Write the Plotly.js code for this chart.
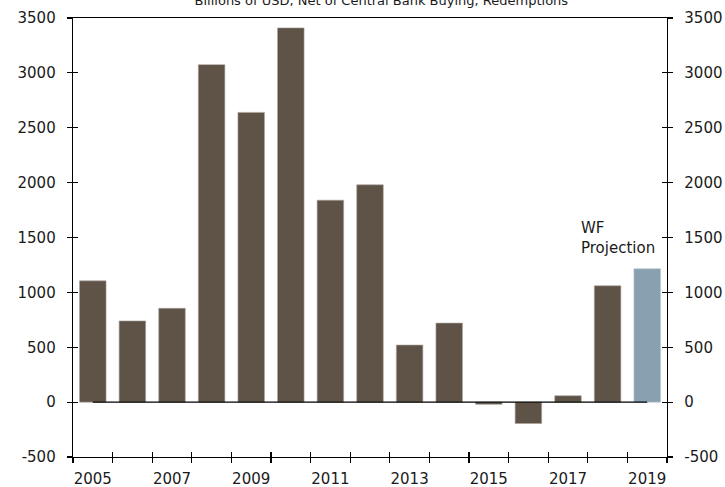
<!DOCTYPE html>
<html>
<head>
<meta charset="utf-8">
<script src="https://cdn.plot.ly/plotly-3.0.1.min.js"></script>
<style>html,body{margin:0;padding:0;background:#fff;}#chart{width:725px;height:487px;}</style>
</head>
<body>
<div id="chart"></div>
<script>
// Data (Billions of USD)
const histYears  = [2005, 2006, 2007, 2008, 2009, 2010, 2011, 2012, 2013, 2014, 2015, 2016, 2017, 2018];
const histValues = [1105, 740, 855, 3075, 2640, 3410, 1840, 1980, 520, 720, -20, -195, 58, 1060];
const projYears  = [2019];
const projValues = [1215];
const yTickVals  = [-500, 0, 500, 1000, 1500, 2000, 2500, 3000, 3500];
const yTickText  = ['-500', '0', '500', '1000', '1500', '2000', '2500', '3000', '3500'];
const titleText  = 'Billions of USD, Net of Central Bank Buying, Redemptions';
const projLabel  = 'WF<br>Projection';

const allYears = histYears.concat(projYears);
const FONT = 'DejaVu Sans, Verdana, sans-serif';
const TXT = '#1a1a1a';

const traces = [
  {type: 'bar', x: histYears, y: histValues, width: 0.67,
   marker: {color: '#5f5347', line: {color: '#a9a39c', width: 0.6}}, hoverinfo: 'skip'},
  {type: 'bar', x: projYears, y: projValues, width: 0.67,
   marker: {color: '#88a0b0', line: {color: '#b8c4cc', width: 0.6}}, hoverinfo: 'skip'},
  {type: 'scatter', mode: 'lines', x: allYears, y: allYears.map(() => 0),
   line: {color: '#000', width: 1.3}, hoverinfo: 'skip'}
];
// invisible helpers so the tick-only overlay axes get drawn
[['x2', 'y'], ['x3', 'y'], ['x', 'y2'], ['x', 'y3'], ['x', 'y4']].forEach(([xa, ya]) => {
  traces.push({type: 'scatter', mode: 'markers', x: [allYears[0]], y: [0], xaxis: xa, yaxis: ya,
    marker: {opacity: 0, size: 1}, hoverinfo: 'skip'});
});

const xr = [allYears[0] - 0.5, allYears[allYears.length - 1] + 0.5];
const yr = [yTickVals[0], yTickVals[yTickVals.length - 1]];

const yBase = {range: yr, tickvals: yTickVals, showgrid: false, zeroline: false, fixedrange: true};
const xTickBase = {range: xr, tick0: xr[0], dtick: 1, showticklabels: false, showgrid: false,
  zeroline: false, showline: false, ticklen: 5, tickwidth: 1.2, tickcolor: '#000', overlaying: 'x', anchor: 'y'};

const layout = {
  width: 725, height: 487,
  margin: {l: 73, r: 58, t: 18, b: 30, pad: 0},
  paper_bgcolor: '#fff', plot_bgcolor: '#fff',
  showlegend: false,
  barmode: 'overlay',
  font: {family: FONT, size: 15, color: TXT},
  title: {text: titleText, font: {family: FONT, size: 13, color: TXT},
          x: 0.526, xanchor: 'center', y: 1, yref: 'container', yanchor: 'middle'},
  xaxis: {range: xr, tick0: allYears[0], dtick: 2, ticks: '', showgrid: false, zeroline: false,
          showline: true, linecolor: '#000', linewidth: 1.3, mirror: true,
          tickfont: {family: FONT, size: 15, color: TXT}, ticklabelstandoff: 8},
  xaxis2: Object.assign({}, xTickBase, {ticks: 'outside'}),
  xaxis3: Object.assign({}, xTickBase, {ticks: 'inside'}),
  yaxis: Object.assign({}, yBase, {ticktext: yTickText, ticks: 'outside', ticklen: 5, tickwidth: 1.2,
          tickcolor: '#000', showline: true, linecolor: '#000', linewidth: 1.3,
          tickfont: {family: FONT, size: 15, color: TXT}, ticklabelstandoff: 8}),
  yaxis2: Object.assign({}, yBase, {ticktext: yTickText, overlaying: 'y', side: 'right', anchor: 'x',
          ticks: 'outside', ticklen: 5, tickwidth: 1.2, tickcolor: '#000', showline: true,
          linecolor: '#000', linewidth: 1.3, tickfont: {family: FONT, size: 15, color: TXT}, ticklabelstandoff: 8}),
  yaxis3: Object.assign({}, yBase, {overlaying: 'y', side: 'left', anchor: 'x', ticks: 'inside', ticklen: 5,
          tickwidth: 1.2, tickcolor: '#000', showticklabels: false, showline: false}),
  yaxis4: Object.assign({}, yBase, {overlaying: 'y', side: 'right', anchor: 'x', ticks: 'inside', ticklen: 5,
          tickwidth: 1.2, tickcolor: '#000', showticklabels: false, showline: false}),
  annotations: [{
    text: projLabel, x: projYears[0], y: projValues[0], xref: 'x', yref: 'y',
    xanchor: 'right', yanchor: 'bottom', align: 'left', showarrow: false,
    xshift: 10, yshift: 10, font: {family: FONT, size: 15, color: TXT}
  }]
};

Plotly.newPlot('chart', traces, layout, {staticPlot: true, displayModeBar: false});
</script>
</body>
</html>
